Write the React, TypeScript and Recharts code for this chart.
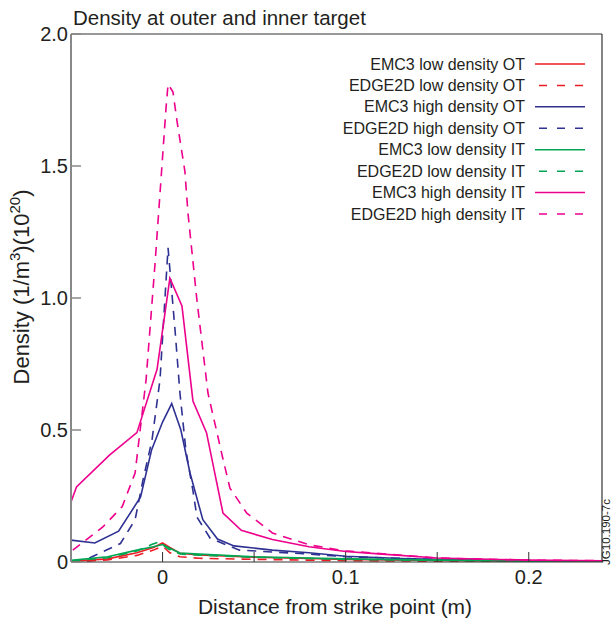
import { LineChart, Line, XAxis, YAxis, ReferenceLine } from "recharts";

const FONT = '"Liberation Sans", Arial, Helvetica, sans-serif';
const INK = "#231f20";

const RED = "#ed1c24";
const BLUE = "#2e3192";
const GREEN = "#00a651";
const PINK = "#ec008c";

// low density runs share the same grid (m)
const lowX = [-0.05, -0.03, -0.014, -0.005, 0, 0.004, 0.0095, 0.02, 0.05, 0.08, 0.1, 0.15, 0.2, 0.24];
const oLowEmc = [0.003, 0.012, 0.035, 0.055, 0.072, 0.055, 0.033, 0.027, 0.018, 0.013, 0.01, 0.006, 0.004, 0.003];
const oLowEdge = [0.0, 0.008, 0.025, 0.045, 0.06, 0.035, 0.02, 0.014, 0.01, 0.007, 0.005, 0.003, 0.002, 0.002];
const iLowEmc = [0.006, 0.02, 0.045, 0.058, 0.066, 0.052, 0.034, 0.03, 0.02, 0.015, 0.012, 0.007, 0.004, 0.003];
const iLowEdgeX = [-0.05, -0.03, -0.014, -0.006, -0.002, 0.003, 0.0095, 0.02, 0.05, 0.08, 0.1, 0.15, 0.2, 0.24];
const iLowEdge = [0.004, 0.016, 0.042, 0.066, 0.076, 0.05, 0.03, 0.026, 0.018, 0.013, 0.01, 0.006, 0.004, 0.003];

// high density, outer target
const oHighEmcX = [-0.05, -0.037, -0.024, -0.012, -0.006, 0, 0.005, 0.01, 0.015, 0.022, 0.03, 0.039, 0.06, 0.08, 0.1, 0.13, 0.16, 0.2, 0.24];
const oHighEmc = [0.083, 0.072, 0.117, 0.246, 0.424, 0.53, 0.6, 0.5, 0.337, 0.16, 0.087, 0.061, 0.045, 0.035, 0.022, 0.013, 0.008, 0.005, 0.004];
const oHighEdgeX = [-0.04, -0.023, -0.015, -0.0107, -0.0058, -0.0014, 0.003, 0.0068, 0.0095, 0.0128, 0.0166, 0.0188, 0.026, 0.042, 0.08, 0.1, 0.15, 0.2, 0.24];
const oHighEdge = [0.015, 0.07, 0.16, 0.31, 0.46, 0.69, 1.19, 0.88, 0.64, 0.42, 0.27, 0.17, 0.09, 0.045, 0.03, 0.02, 0.01, 0.005, 0.003];

// high density, inner target
const iHighEmcX = [-0.05, -0.047, -0.029, -0.014, -0.003, 0.004, 0.0106, 0.0166, 0.024, 0.033, 0.043, 0.06, 0.08, 0.1, 0.12, 0.15, 0.2, 0.24];
const iHighEmc = [0.227, 0.284, 0.405, 0.49, 0.73, 1.075, 0.97, 0.61, 0.49, 0.185, 0.12, 0.085, 0.058, 0.04, 0.03, 0.015, 0.007, 0.005];
const iHighEdgeX = [-0.049, -0.0326, -0.022, -0.015, -0.009, -0.004, 0.0019, 0.003, 0.0057, 0.0079, 0.0122, 0.0139, 0.0188, 0.0248, 0.033, 0.0368, 0.046, 0.06, 0.08, 0.1, 0.15, 0.2, 0.24];
const iHighEdge = [0.045, 0.133, 0.21, 0.337, 0.69, 1.14, 1.72, 1.81, 1.78, 1.67, 1.48, 1.32, 0.99, 0.64, 0.39, 0.28, 0.185, 0.11, 0.065, 0.042, 0.015, 0.007, 0.005];

const xTicks = [0, 0.05, 0.1, 0.15, 0.2];
const yTicks = [0, 0.5, 1, 1.5, 2];

const pts = (xs: number[], ys: number[]) => xs.map((x, i) => ({ x, y: ys[i] }));

const series = [
  { name: "EMC3 low density OT", color: RED, dashed: false, data: pts(lowX, oLowEmc) },
  { name: "EDGE2D low density OT", color: RED, dashed: true, data: pts(lowX, oLowEdge) },
  { name: "EMC3 high density OT", color: BLUE, dashed: false, data: pts(oHighEmcX, oHighEmc) },
  { name: "EDGE2D high density OT", color: BLUE, dashed: true, data: pts(oHighEdgeX, oHighEdge) },
  { name: "EMC3 low density IT", color: GREEN, dashed: false, data: pts(lowX, iLowEmc) },
  { name: "EDGE2D low density IT", color: GREEN, dashed: true, data: pts(iLowEdgeX, iLowEdge) },
  { name: "EMC3 high density IT", color: PINK, dashed: false, data: pts(iHighEmcX, iHighEmc) },
  { name: "EDGE2D high density IT", color: PINK, dashed: true, data: pts(iHighEdgeX, iHighEdge) },
];

const XTick = (props: any) => {
  const { x, y, payload } = props;
  const v = payload.value;
  const showLabel = Math.abs(v * 10 - Math.round(v * 10)) < 1e-6;
  return (
    <g>
      <line x1={x} x2={x} y1={y} y2={y - 10} stroke="#333" strokeWidth={1} />
      {showLabel && (
        <text x={x} y={y + 22} textAnchor="middle" fontSize={20} fontFamily={FONT} fill={INK}>
          {v === 0 ? "0" : v.toFixed(1)}
        </text>
      )}
    </g>
  );
};

const YTick = (props: any) => {
  const { x, y, payload } = props;
  const v = payload.value;
  return (
    <g>
      <line x1={x} x2={x + 10} y1={y} y2={y} stroke="#888" strokeWidth={1.5} />
      <text x={x - 3} y={y + 7} textAnchor="end" fontSize={20} fontFamily={FONT} fill={INK}>
        {v === 0 ? "0" : v.toFixed(1)}
      </text>
    </g>
  );
};

export default function App() {
  return (
    <div style={{ position: "absolute", left: 0, top: 0, width: 614, height: 619, background: "#fff" }}>
      <LineChart width={614} height={619} margin={{ top: 34, right: 12, bottom: 0, left: 0 }}>
        <XAxis
          type="number"
          dataKey="x"
          domain={[-0.05, 0.24]}
          ticks={xTicks}
          allowDataOverflow
          height={57}
          stroke="#333"
          tickLine={false}
          tickSize={0}
          tickMargin={0}
          tick={(p: any) => <XTick {...p} />}
        />
        <YAxis
          type="number"
          dataKey="y"
          domain={[0, 2]}
          ticks={yTicks}
          allowDataOverflow
          width={71}
          stroke="#888"
          strokeWidth={2}
          tickLine={false}
          tickSize={0}
          tickMargin={0}
          tick={(p: any) => <YTick {...p} />}
        />
        <ReferenceLine y={2} stroke="#333" strokeWidth={1.2} />
        <ReferenceLine x={0.24} stroke="#333" strokeWidth={1.2} />
        {series.map((s) => (
          <Line
            key={s.name}
            data={s.data}
            dataKey="y"
            name={s.name}
            type="linear"
            stroke={s.color}
            strokeWidth={1.6}
            strokeDasharray={s.dashed ? "9 7" : undefined}
            dot={false}
            activeDot={false}
            isAnimationActive={false}
          />
        ))}
      </LineChart>
      <svg
        width={614}
        height={619}
        style={{ position: "absolute", left: 0, top: 0, pointerEvents: "none" }}
        fontFamily={FONT}
      >
        <text x={73} y={25} fontSize={20.5} fill={INK}>
          Density at outer and inner target
        </text>
        <text x={335} y={614} fontSize={21} fill={INK} textAnchor="middle">
          Distance from strike point (m)
        </text>
        <text transform="rotate(-90 29 287)" x={29} y={287} fontSize={22} fill={INK} textAnchor="middle">
          Density (1/m<tspan dy={-9} fontSize={15}>3</tspan>
          <tspan dy={9}>)(10</tspan>
          <tspan dy={-9} fontSize={15}>20</tspan>
          <tspan dy={9}>)</tspan>
        </text>
        <text transform="rotate(-90 610 532)" x={610} y={532} fontSize={11.5} fill={INK} textAnchor="middle">
          JG10.190-7c
        </text>
        {series.map((s, i) => {
          const cy = 64 + i * 21.43;
          return (
            <g key={s.name}>
              <text x={525} y={cy + 5.5} fontSize={16} fill={INK} textAnchor="end">
                {s.name}
              </text>
              <line
                x1={535}
                x2={585}
                y1={cy}
                y2={cy}
                stroke={s.color}
                strokeWidth={1.5}
                strokeDasharray={s.dashed ? "8 10" : undefined}
                strokeDashoffset={s.dashed ? -4 : 0}
              />
            </g>
          );
        })}
      </svg>
    </div>
  );
}
